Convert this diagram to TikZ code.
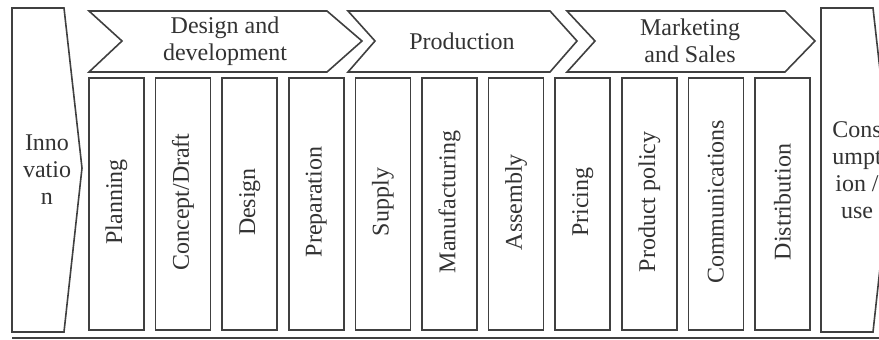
\documentclass[tikz,border=0pt]{standalone}
\usepackage{fontspec}
\setmainfont{Liberation Serif}
\begin{document}
\begin{tikzpicture}[x=1pt,y=-1pt,
  outline/.style={draw=black!75,line width=1.6pt,line join=miter,fill=white},
  label/.style={text=black!80,font=\fontsize{24}{27}\selectfont,align=center,inner sep=0pt},
  vlabel/.style={label,rotate=90},
  stage/.style={outline}]
\useasboundingbox (0,0) rectangle (879,340);
\clip (0,0) rectangle (879,340);

% start and end of the chain
\draw[outline] (12,8) -- (64,8) -- (82,168) -- (64,332) -- (12,332) -- cycle;
\node[label] (innov) at (47,170) {Inno\\vatio\\n};
\draw[outline] (821,8) -- (873,8) -- (891,168) -- (873,332) -- (821,332) -- cycle;
\node[label] (cons) at (857,170) {Cons\\umpt\\ion /\\use};

% phase chevrons
\draw[outline] (89,11) -- (327,11) -- (362,41) -- (327,72) -- (89,72) -- (122,41) -- cycle;
\draw[outline] (348,11) -- (550,11) -- (577,41) -- (550,72) -- (348,72) -- (375,41) -- cycle;
\draw[outline] (567,11) -- (785,11) -- (815,41) -- (785,72) -- (567,72) -- (595,41) -- cycle;
\node[label] (design) at (225,41) {Design and\\development};
\node[label] (prod) at (462,41) {Production};
\node[label] (mkt) at (690,41) {Marketing\\and Sales};

% activity columns
\foreach \i/\t in {0/Planning,1/Concept\slash Draft,2/Design,3/Preparation,
                   4/Supply,5/Manufacturing,6/Assembly,7/Pricing,
                   8/Product policy,9/Communications,10/Distribution}{
  \pgfmathsetmacro{\xl}{89+66.6*\i}
  \draw[outline] (\xl,78) rectangle ++(55,252);
  \node[vlabel] (act\i) at (\xl+27.5,202) {\t};
}

% base line
\draw[draw=black!75,line width=1.6pt] (12,338) -- (879,338);
\end{tikzpicture}
\end{document}
